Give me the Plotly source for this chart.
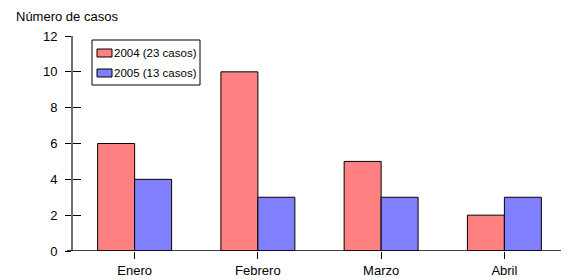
import plotly.graph_objects as go

meses = ["Enero", "Febrero", "Marzo", "Abril"]
casos_2004 = [6, 10, 5, 2]
casos_2005 = [4, 3, 3, 3]
nombre_2004 = "2004 (23 casos)"
nombre_2005 = "2005 (13 casos)"
color_2004 = "#FF8080"
color_2005 = "#8080FF"
y_ticks = [0, 2, 4, 6, 8, 10, 12]

FONT = "Liberation Sans, Arial, sans-serif"

# page has an 8px body margin; compensate
W, H = 561, 272
L, R, T, B = 65, 3, 28, 29
PW, PH = W - L - R, H - T - B
OX, OY = 8 + L, 8 + T  # page coords of plot top-left


def px(x):
    return (x - OX) / PW


def py(y):
    return 1 - (y - OY) / PH


fig = go.Figure()
fig.add_trace(go.Bar(x=meses, y=casos_2004, name=nombre_2004, showlegend=False,
                     marker=dict(color=color_2004, line=dict(color="#000000", width=1))))
fig.add_trace(go.Bar(x=meses, y=casos_2005, name=nombre_2005, showlegend=False,
                     marker=dict(color=color_2005, line=dict(color="#000000", width=1))))
fig.add_trace(go.Scatter(x=[None], y=[None], yaxis="y2", showlegend=False, hoverinfo="skip"))

fig.update_layout(
    width=W, height=H,
    margin=dict(l=L, r=R, t=T, b=B),
    paper_bgcolor="white", plot_bgcolor="white",
    barmode="group", bargap=0.4, bargroupgap=0,
    font=dict(family=FONT, size=13, color="#000000"),
    showlegend=False,
    xaxis=dict(showgrid=False, showline=False, ticks="outside", ticklen=7,
               tickcolor="#000000", tickwidth=1, zeroline=False,
               tickfont=dict(size=13)),
    yaxis=dict(range=[0, 12], tickvals=y_ticks, showgrid=False, showline=True,
               linecolor="#707070", linewidth=2, ticks="outside", ticklen=6,
               tickcolor="#000000", zeroline=False, ticklabelstandoff=5,
               tickfont=dict(size=13)),
    yaxis2=dict(range=[0, 12], tickvals=y_ticks, overlaying="y", side="left",
                showgrid=False, showline=False, ticks="inside", ticklen=8,
                tickcolor="#000000", showticklabels=False, zeroline=False),
)
fig.add_annotation(text="Número de casos", xref="paper", yref="paper",
                   x=px(14), y=py(17), xanchor="left", yanchor="middle",
                   showarrow=False, font=dict(family=FONT, size=13))
fig.add_shape(type="line", xref="paper", yref="y", x0=-6 / PW, x1=1, y0=0, y1=0,
              line=dict(color="#000000", width=1.5), layer="above")

# legend box drawn by hand
fig.add_shape(type="rect", xref="paper", yref="paper",
              x0=px(92), x1=px(200), y0=py(85), y1=py(40),
              line=dict(color="#000000", width=1), fillcolor="white", layer="above")
for name, color, yc in [(nombre_2004, color_2004, 53), (nombre_2005, color_2005, 73)]:
    fig.add_shape(type="rect", xref="paper", yref="paper",
                  x0=px(97), x1=px(112), y0=py(yc + 4), y1=py(yc - 4),
                  line=dict(color="#000000", width=1), fillcolor=color, layer="above")
    fig.add_annotation(text=name, xref="paper", yref="paper", x=px(112), y=py(yc),
                       xanchor="left", yanchor="middle", showarrow=False,
                       font=dict(family=FONT, size=11.5))

fig.write_html("out.html")
